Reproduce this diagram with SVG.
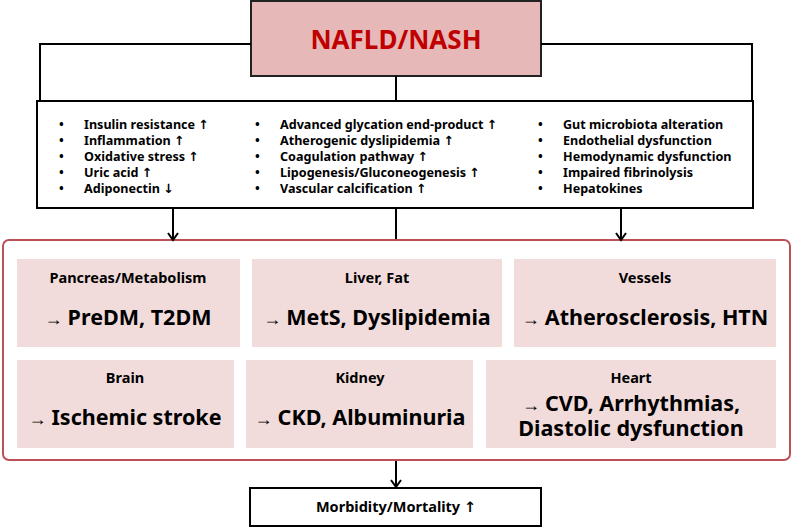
<svg xmlns="http://www.w3.org/2000/svg" width="792" height="528" viewBox="0 0 792 528">
<style>
text{font-family:"Noto Sans","Open Sans","DejaVu Sans",sans-serif;font-weight:bold;fill:#000}
.ln{fill:none;stroke:#000;stroke-width:2}
.li{font-size:12.6px}
.t{font-size:14.5px;text-anchor:middle}
.b{font-size:21.5px;text-anchor:middle}
.ar{font-size:18px;font-weight:normal;font-family:"Liberation Sans","DejaVu Sans",sans-serif}
.card{fill:#f2dcdb}
</style>
<defs>
<marker id="ah" markerWidth="12" markerHeight="12" refX="10" refY="6" orient="auto" markerUnits="userSpaceOnUse" viewBox="0 0 12 12">
<polyline points="3,1 10,6 3,11" fill="none" stroke="#000" stroke-width="2"/>
</marker>
</defs>
<g id="nafld">
<rect x="251" y="1" width="290" height="75" fill="#e6b9b8" stroke="#222" stroke-width="2"/>
<text x="396" y="49" style="font-size:26px;text-anchor:middle;fill:#c00000">NAFLD/NASH</text>
</g>
<g id="mechanisms">
<rect x="37" y="101" width="716" height="107" fill="#fff" stroke="#000" stroke-width="2"/>
<g class="li">
<text x="59" y="129">•</text><text x="84" y="129">Insulin resistance ↑</text>
<text x="59" y="145">•</text><text x="84" y="145">Inflammation ↑</text>
<text x="59" y="161">•</text><text x="84" y="161">Oxidative stress  ↑</text>
<text x="59" y="177">•</text><text x="84" y="177">Uric acid ↑</text>
<text x="59" y="193">•</text><text x="84" y="193">Adiponectin  ↓</text>
<text x="255" y="129">•</text><text x="280" y="129">Advanced glycation end-product  ↑</text>
<text x="255" y="145">•</text><text x="280" y="145">Atherogenic dyslipidemia ↑</text>
<text x="255" y="161">•</text><text x="280" y="161">Coagulation pathway ↑</text>
<text x="255" y="177">•</text><text x="280" y="177">Lipogenesis/Gluconeogenesis ↑</text>
<text x="255" y="193">•</text><text x="280" y="193">Vascular calcification ↑</text>
<text x="538" y="129">•</text><text x="563" y="129">Gut microbiota alteration</text>
<text x="538" y="145">•</text><text x="563" y="145">Endothelial dysfunction</text>
<text x="538" y="161">•</text><text x="563" y="161">Hemodynamic dysfunction</text>
<text x="538" y="177">•</text><text x="563" y="177">Impaired fibrinolysis</text>
<text x="538" y="193">•</text><text x="563" y="193">Hepatokines</text>
</g>
</g>
<g id="outcomes">
<rect x="3" y="240" width="787" height="220" rx="6" fill="#fff" stroke="#bb5058" stroke-width="2"/>
</g>
<g id="pancreas">
<rect class="card" x="17" y="259" width="223" height="88"/>
<text class="t" x="128" y="283">Pancreas/Metabolism</text>
<text class="b" x="128" y="325"><tspan class="ar">→ </tspan>PreDM, T2DM</text>
</g>
<g id="liver">
<rect class="card" x="252" y="259" width="250" height="88"/>
<text class="t" x="377" y="283">Liver, Fat</text>
<text class="b" x="377" y="325"><tspan class="ar">→ </tspan>MetS, Dyslipidemia</text>
</g>
<g id="vessels">
<rect class="card" x="514" y="259" width="262" height="88"/>
<text class="t" x="645" y="283">Vessels</text>
<text class="b" x="645" y="325"><tspan class="ar">→ </tspan>Atherosclerosis, HTN</text>
</g>
<g id="brain">
<rect class="card" x="17" y="360" width="217" height="88"/>
<text class="t" x="125" y="383">Brain</text>
<text class="b" x="125" y="425"><tspan class="ar">→ </tspan>Ischemic stroke</text>
</g>
<g id="kidney">
<rect class="card" x="246" y="360" width="227" height="88"/>
<text class="t" x="360" y="383">Kidney</text>
<text class="b" x="360" y="425"><tspan class="ar">→ </tspan>CKD, Albuminuria</text>
</g>
<g id="heart">
<rect class="card" x="486" y="360" width="290" height="88"/>
<text class="t" x="631" y="383">Heart</text>
<text class="b" x="631" y="411"><tspan class="ar">→ </tspan>CVD, Arrhythmias,</text>
<text class="b" x="631" y="436">Diastolic dysfunction</text>
</g>
<g id="morbidity">
<rect x="250" y="488" width="291" height="38" fill="#fff" stroke="#000" stroke-width="2"/>
<text x="396" y="512" style="font-size:14.5px;text-anchor:middle">Morbidity/Mortality ↑</text>
</g>
<g id="connectors">
<polyline class="ln" points="251,44 40,44 40,101"/>
<polyline class="ln" points="541,44 752,44 752,101"/>
<line class="ln" x1="396" y1="76" x2="396" y2="101"/>
<line class="ln" x1="173" y1="209" x2="173" y2="240" marker-end="url(#ah)"/>
<line class="ln" x1="621" y1="209" x2="621" y2="240" marker-end="url(#ah)"/>
<line class="ln" x1="396" y1="209" x2="396" y2="239"/>
<line class="ln" x1="396" y1="461" x2="396" y2="487" marker-end="url(#ah)"/>
</g>
</svg>
